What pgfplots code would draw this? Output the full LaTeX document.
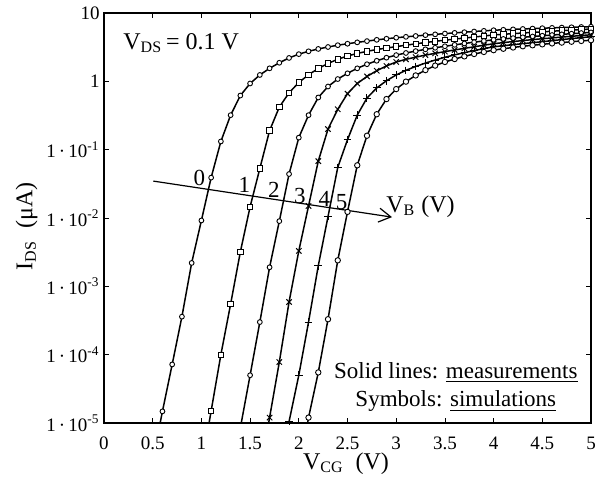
\documentclass[border=0pt]{standalone}
\usepackage{fontspec}
\setmainfont{Liberation Serif}
\usepackage{pgfplots}
\pgfplotsset{compat=1.18}
\usepackage{pgfplotstable}
\usetikzlibrary{arrows.meta}

\pgfplotstableread{
x y
0.5 2.8e-6
0.6 1.48e-5
0.7 7.2e-5
0.8 3.6e-4
0.9 2.2e-3
1.0 9.2e-3
1.1 0.039
1.2 0.132
1.3 0.32
1.4 0.62
1.5 0.93
1.6 1.24
1.7 1.55
1.8 1.87
1.9 2.2
2.0 2.5
2.1 2.75
2.2 2.98
2.3 3.18
2.4 3.38
2.5 3.55
2.6 3.72
2.7 3.88
2.8 4.05
2.9 4.2
3.0 4.35
3.1 4.48
3.2 4.61
3.3 4.74
3.4 4.87
3.5 5.0
3.6 5.12
3.7 5.24
3.8 5.36
3.9 5.48
4.0 5.6
4.1 5.68
4.2 5.76
4.3 5.84
4.4 5.92
4.5 6.0
4.6 6.06
4.7 6.12
4.8 6.18
4.9 6.24
5.0 6.3
}\dA

\pgfplotstableread{
x y
1.0 2.2e-6
1.1 1.5e-5
1.2 1.0e-4
1.3 5.5e-4
1.4 3.2e-3
1.5 0.0146
1.6 0.053
1.7 0.19
1.8 0.42
1.9 0.68
2.0 0.96
2.1 1.25
2.2 1.54
2.3 1.83
2.4 2.1
2.5 2.35
2.6 2.56
2.7 2.75
2.8 2.92
2.9 3.07
3.0 3.22
3.1 3.38
3.2 3.54
3.3 3.7
3.4 3.85
3.5 4.0
3.6 4.15
3.7 4.3
3.8 4.45
3.9 4.61
4.0 4.77
4.1 4.88
4.2 4.99
4.3 5.1
4.4 5.2
4.5 5.3
4.6 5.41
4.7 5.52
4.8 5.62
4.9 5.73
5.0 5.83
}\dB

\pgfplotstableread{
x y
1.4 8.5e-6
1.5 5.0e-5
1.6 3.0e-4
1.7 1.9e-3
1.8 9.0e-3
1.9 0.044
2.0 0.15
2.1 0.32
2.2 0.58
2.3 0.84
2.4 1.08
2.5 1.31
2.6 1.55
2.7 1.78
2.8 2.0
2.9 2.22
3.0 2.42
3.1 2.6
3.2 2.77
3.3 2.94
3.4 3.1
3.5 3.26
3.6 3.42
3.7 3.58
3.8 3.74
3.9 3.9
4.0 4.05
4.1 4.17
4.2 4.29
4.3 4.41
4.4 4.53
4.5 4.65
4.6 4.76
4.7 4.87
4.8 4.98
4.9 5.09
5.0 5.2
}\dC

\pgfplotstableread{
x y
1.6 1.8e-6
1.7 1.2e-5
1.8 7.8e-5
1.9 5.9e-4
2.0 3.3e-3
2.1 0.015
2.2 0.068
2.3 0.20
2.4 0.39
2.5 0.66
2.6 0.93
2.7 1.18
2.8 1.43
2.9 1.68
3.0 1.92
3.1 2.1
3.2 2.26
3.3 2.42
3.4 2.57
3.5 2.72
3.6 2.88
3.7 3.04
3.8 3.2
3.9 3.38
4.0 3.55
4.1 3.69
4.2 3.82
4.3 3.95
4.4 4.08
4.5 4.2
4.6 4.32
4.7 4.44
4.8 4.56
4.9 4.68
5.0 4.8
}\dD

\pgfplotstableread{
x y
1.8 1.6e-6
1.9 1.05e-5
2.0 5.0e-5
2.1 3.0e-4
2.2 2.0e-3
2.3 0.0105
2.4 0.055
2.5 0.14
2.6 0.32
2.7 0.57
2.8 0.8
2.9 1.02
3.0 1.24
3.1 1.45
3.2 1.65
3.3 1.85
3.4 2.05
3.5 2.25
3.6 2.44
3.7 2.63
3.8 2.82
3.9 3.01
4.0 3.2
4.1 3.32
4.2 3.44
4.3 3.56
4.4 3.68
4.5 3.8
4.6 3.94
4.7 4.08
4.8 4.22
4.9 4.36
5.0 4.5
}\dE

\pgfplotstableread{
x y
2.0 1.8e-6
2.1 1.2e-5
2.2 5.5e-5
2.3 3.3e-4
2.4 2.4e-3
2.5 0.0123
2.6 0.059
2.7 0.16
2.8 0.33
2.9 0.55
3.0 0.77
3.1 0.99
3.2 1.22
3.3 1.46
3.4 1.70
3.5 1.92
3.6 2.12
3.7 2.32
3.8 2.51
3.9 2.69
4.0 2.86
4.1 3.0
4.2 3.13
4.3 3.26
4.4 3.37
4.5 3.48
4.6 3.59
4.7 3.69
4.8 3.8
4.9 3.9
5.0 4.0
}\dF

\begin{document}
\begin{tikzpicture}
\begin{axis}[
  scale only axis, width=243.5pt, height=205pt,
  ymode=log, xmin=0, xmax=5, ymin=1e-5, ymax=10,
  xtick={0,0.5,1,1.5,2,2.5,3,3.5,4,4.5,5},
  xticklabels={0,0.5,1,1.5,2,2.5,3,3.5,4,4.5,5},
  ytick={1e-5,1e-4,1e-3,1e-2,1e-1,1,10},
  yticklabels={1\,·\,10\textsuperscript{-5},1\,·\,10\textsuperscript{-4},1\,·\,10\textsuperscript{-3},1\,·\,10\textsuperscript{-2},1\,·\,10\textsuperscript{-1},1,10},
  yminorticks=false,
  tick align=inside, major tick length=2.6pt,
  tick style={black, line width=0.4pt},
  axis line style={line width=0.6pt},
  tick label style={font=\fontsize{9.5}{11}\selectfont},
  xticklabel style={yshift=-3.5pt},
  yticklabel style={xshift=1.3pt},
  xlabel={V\textsubscript{CG}\ \ (V)},
  ylabel={I\textsubscript{DS}\ \ (μA)},
  label style={font=\fontsize{12}{14}\selectfont},
  xlabel style={at={(axis description cs:0.497,0)}, anchor=base, yshift=-23pt},
  ylabel style={at={(axis description cs:-0.159,0.48)}, anchor=center},
]
\addplot[black, line width=0.75pt, no markers] table {\dA};
\addplot[black, line width=0.75pt, no markers] table {\dB};
\addplot[black, line width=0.75pt, no markers] table {\dC};
\addplot[black, line width=0.75pt, no markers] table {\dD};
\addplot[black, line width=0.75pt, no markers] table {\dE};
\addplot[black, line width=0.75pt, no markers] table {\dF};

\addplot[only marks, mark=*, mark size=1.2pt, mark options={draw=black, fill=white, line width=0.45pt}, skip coords between index={0}{1}] table {\dA};
\addplot[only marks, mark=square*, mark size=1.35pt, mark options={draw=black, fill=white, line width=0.45pt}, skip coords between index={0}{1}] table {\dB};
\addplot[only marks, mark=*, mark size=1.2pt, mark options={draw=black, fill=white, line width=0.45pt}, skip coords between index={0}{1}] table {\dC};
\addplot[only marks, mark=x, mark size=1.9pt, mark options={draw=black, line width=0.5pt}, skip coords between index={0}{1}] table {\dD};
\addplot[only marks, mark=+, mark size=1.9pt, mark options={draw=black, line width=0.5pt}, skip coords between index={0}{1}] table {\dE};
\addplot[only marks, mark=*, mark size=1.35pt, mark options={draw=black, fill=white, line width=0.45pt}, skip coords between index={0}{1}] table {\dF};

\draw[line width=0.6pt, -{Straight Barb[length=6pt,width=7pt]}] (axis cs:0.506,0.0347) -- (axis cs:2.957,0.0103);

\node[anchor=base west, font=\fontsize{12}{14}\selectfont, inner sep=0pt] at (axis cs:0.195,2.97) {V\textsubscript{DS}\,= 0.1 V};
\node[anchor=base, font=\fontsize{11.5}{13}\selectfont, inner sep=0pt] at (axis cs:0.978,0.0303) {0};
\node[anchor=base, font=\fontsize{11.5}{13}\selectfont, inner sep=0pt] at (axis cs:1.44,0.0234) {1};
\node[anchor=base, font=\fontsize{11.5}{13}\selectfont, inner sep=0pt] at (axis cs:1.745,0.0198) {2};
\node[anchor=base, font=\fontsize{11.5}{13}\selectfont, inner sep=0pt] at (axis cs:2.01,0.0164) {3};
\node[anchor=base, font=\fontsize{11.5}{13}\selectfont, inner sep=0pt] at (axis cs:2.262,0.0149) {4};
\node[anchor=base, font=\fontsize{11.5}{13}\selectfont, inner sep=0pt] at (axis cs:2.44,0.0134) {5};
\node[anchor=base west, font=\fontsize{12}{14}\selectfont, inner sep=0pt] at (axis cs:2.895,0.0122) {V\textsubscript{B} (V)};
\node[anchor=base, font=\fontsize{11.5}{13}\selectfont, inner sep=0pt] at (axis cs:3.612,4.47e-5) {Solid lines: \underline{measurements}};
\node[anchor=base, font=\fontsize{11.5}{13}\selectfont, inner sep=0pt] at (axis cs:3.612,1.72e-5) {Symbols: \underline{simulations}};
\end{axis}
\pgfresetboundingbox
\path ([xshift=-52pt,yshift=-29.5pt]current axis.south west) rectangle ([xshift=4.5pt,yshift=6.5pt]current axis.north east);
\end{tikzpicture}
\end{document}
